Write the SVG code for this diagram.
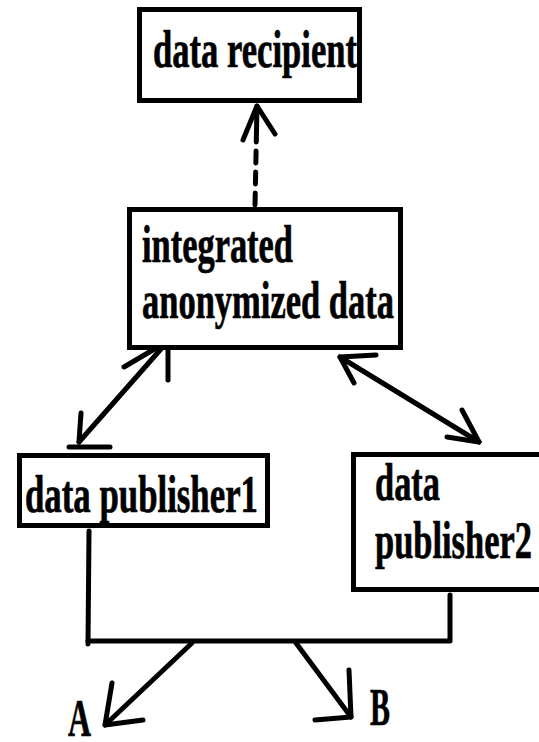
<svg xmlns="http://www.w3.org/2000/svg" width="539" height="742" viewBox="0 0 539 742">
<style>
.box{fill:#fff;stroke:#000;stroke-width:5}
.t{font-family:"Liberation Serif","Times New Roman",serif;font-weight:bold;font-size:52px;fill:#000;stroke:#000;stroke-width:0.7}
.ln{fill:none;stroke:#000;stroke-width:5;stroke-linecap:round;stroke-linejoin:round}
</style>
<rect width="539" height="742" fill="#fff"/>
<g id="connectors">
  <line class="ln" x1="255" y1="205" x2="257" y2="106" stroke-linecap="butt" stroke-dasharray="36,9,12,9,12,9,12,9" transform="rotate(180 256 155.5)"/>
  <polyline class="ln" points="243,140 257,106 275,134"/>
  <line class="ln" x1="168" y1="341" x2="79" y2="442"/>
  <polyline class="ln" points="124,367 168,341 168,380"/>
  <polyline class="ln" points="81,413 79,442"/>
  <line class="ln" x1="69" y1="447" x2="110" y2="447" stroke-width="6"/>
  <line class="ln" x1="340" y1="357" x2="479" y2="442"/>
  <polyline class="ln" points="376,355 340,357 354,383"/>
  <polyline class="ln" points="462,410 479,442 447,437"/>
  <polyline class="ln" points="89,531 88,644"/>
  <polyline class="ln" points="88,641 450,641 450,595" stroke-linecap="butt"/>
  <line class="ln" x1="192" y1="643" x2="105" y2="725"/>
  <polyline class="ln" points="112,683 105,725 143,720"/>
  <line class="ln" x1="296" y1="643" x2="351" y2="717"/>
  <polyline class="ln" points="349,670 351,717 315,720"/>
</g>
<g id="node-recipient">
  <rect class="box" x="139.5" y="9.5" width="220" height="91"/>
  <text class="t" x="153" y="67" textLength="204" lengthAdjust="spacingAndGlyphs">data recipient</text>
</g>
<g id="node-integrated">
  <rect class="box" x="129.5" y="209.5" width="271" height="138"/>
  <text class="t" x="142" y="262" font-size="54" textLength="151" lengthAdjust="spacingAndGlyphs">integrated</text>
  <text class="t" x="142" y="318" font-size="46" textLength="252" lengthAdjust="spacingAndGlyphs">anonymized data</text>
</g>
<g id="node-publisher1">
  <rect class="box" x="19.5" y="455.5" width="248" height="70"/>
  <text class="t" x="25" y="512" textLength="233" lengthAdjust="spacingAndGlyphs">data publisher1</text>
</g>
<g id="node-publisher2">
  <rect class="box" x="353.5" y="454.5" width="200" height="135"/>
  <text class="t" x="375" y="500" font-size="44" textLength="65" lengthAdjust="spacingAndGlyphs">data</text>
  <text class="t" x="375" y="558" font-size="46" textLength="157" lengthAdjust="spacingAndGlyphs">publisher2</text>
</g>
<g id="labels">
  <text class="t" x="68" y="736" font-size="50" textLength="23" lengthAdjust="spacingAndGlyphs">A</text>
  <text class="t" x="370" y="725" font-size="50" textLength="20" lengthAdjust="spacingAndGlyphs">B</text>
</g>
</svg>
